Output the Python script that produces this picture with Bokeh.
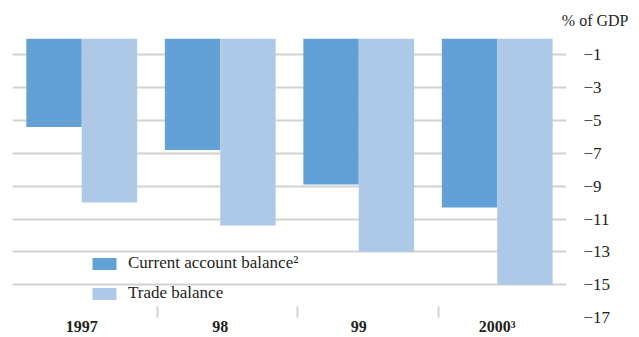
from bokeh.plotting import figure
from bokeh.models import (ColumnDataSource, Range1d, FixedTicker, Legend, LegendItem, Title)
from bokeh.transform import dodge
from bokeh.embed import file_html
from bokeh.resources import INLINE

# ---- data ----
years = ["1997", "98", "99", "2000³"]
current_account = [-5.4, -6.8, -8.9, -10.3]
trade_balance = [-10.0, -11.4, -13.0, -15.0]
y_ticks = [-1, -3, -5, -7, -9, -11, -13, -15, -17]
grid_ticks = [0] + y_ticks

CA_COLOR = "#63a0d6"
TB_COLOR = "#aec9e7"
GRID = "#d2d2d2"
TEXT = "#231f20"
FONT = "Liberation Serif"

idx = list(range(len(years)))
src = ColumnDataSource(dict(x=idx, ca=current_account, tb=trade_balance))

p = figure(width=639, height=337, output_backend="svg", toolbar_location=None,
           x_range=Range1d(-0.5, len(years) - 0.5), y_range=Range1d(-17, 0),
           y_axis_location="right", min_border_left=12, min_border_top=38,
           min_border_right=73, min_border_bottom=4)
p.outline_line_color = None

r1 = p.vbar(x=dodge("x", -0.2, range=p.x_range), top=0, bottom="ca", width=0.4,
            source=src, fill_color=CA_COLOR, line_color=None)
r2 = p.vbar(x=dodge("x", 0.2, range=p.x_range), top=0, bottom="tb", width=0.4,
            source=src, fill_color=TB_COLOR, line_color=None)

# y axis
ya = p.yaxis[0]
ya.ticker = FixedTicker(ticks=y_ticks)
ya.axis_line_color = None
ya.major_tick_line_color = None
ya.minor_tick_line_color = None
ya.major_label_standoff = 11
ya.major_label_text_font = FONT
ya.major_label_text_font_size = "17px"
ya.major_label_text_color = TEXT

p.ygrid.ticker = FixedTicker(ticks=grid_ticks)
p.ygrid.grid_line_color = GRID
p.ygrid.grid_line_width = 2
p.xgrid.grid_line_color = None

# x axis
xa = p.xaxis[0]
xa.ticker = FixedTicker(ticks=idx, minor_ticks=[0.547, 1.558, 2.576])
xa.major_label_overrides = {i: y for i, y in zip(idx, years)}
xa.axis_line_color = None
xa.major_tick_line_color = None
xa.major_tick_in = 0
xa.major_tick_out = 0
xa.minor_tick_in = 11
xa.minor_tick_out = 0
xa.minor_tick_line_color = GRID
xa.minor_tick_line_width = 2
xa.major_label_standoff = 0
xa.major_label_text_font = FONT
xa.major_label_text_font_style = "bold"
xa.major_label_text_font_size = "16px"
xa.major_label_text_color = TEXT

legend = Legend(items=[LegendItem(label="Current account balance²", renderers=[r1]),
                       LegendItem(label="Trade balance", renderers=[r2])],
                location=(77, 14), orientation="vertical",
                glyph_width=30, glyph_height=15, label_height=15, label_standoff=9,
                spacing=10, padding=0, margin=0,
                border_line_color=None, background_fill_alpha=0,
                label_text_font=FONT, label_text_font_size="17px",
                label_text_color=TEXT)
p.add_layout(legend, "center")

title = Title(text="% of GDP", align="right", offset=-62, standoff=19,
              text_font=FONT, text_font_size="16px", text_font_style="normal",
              text_color=TEXT)
p.add_layout(title, "above")

open("out.html", "w").write(file_html(p, INLINE))
